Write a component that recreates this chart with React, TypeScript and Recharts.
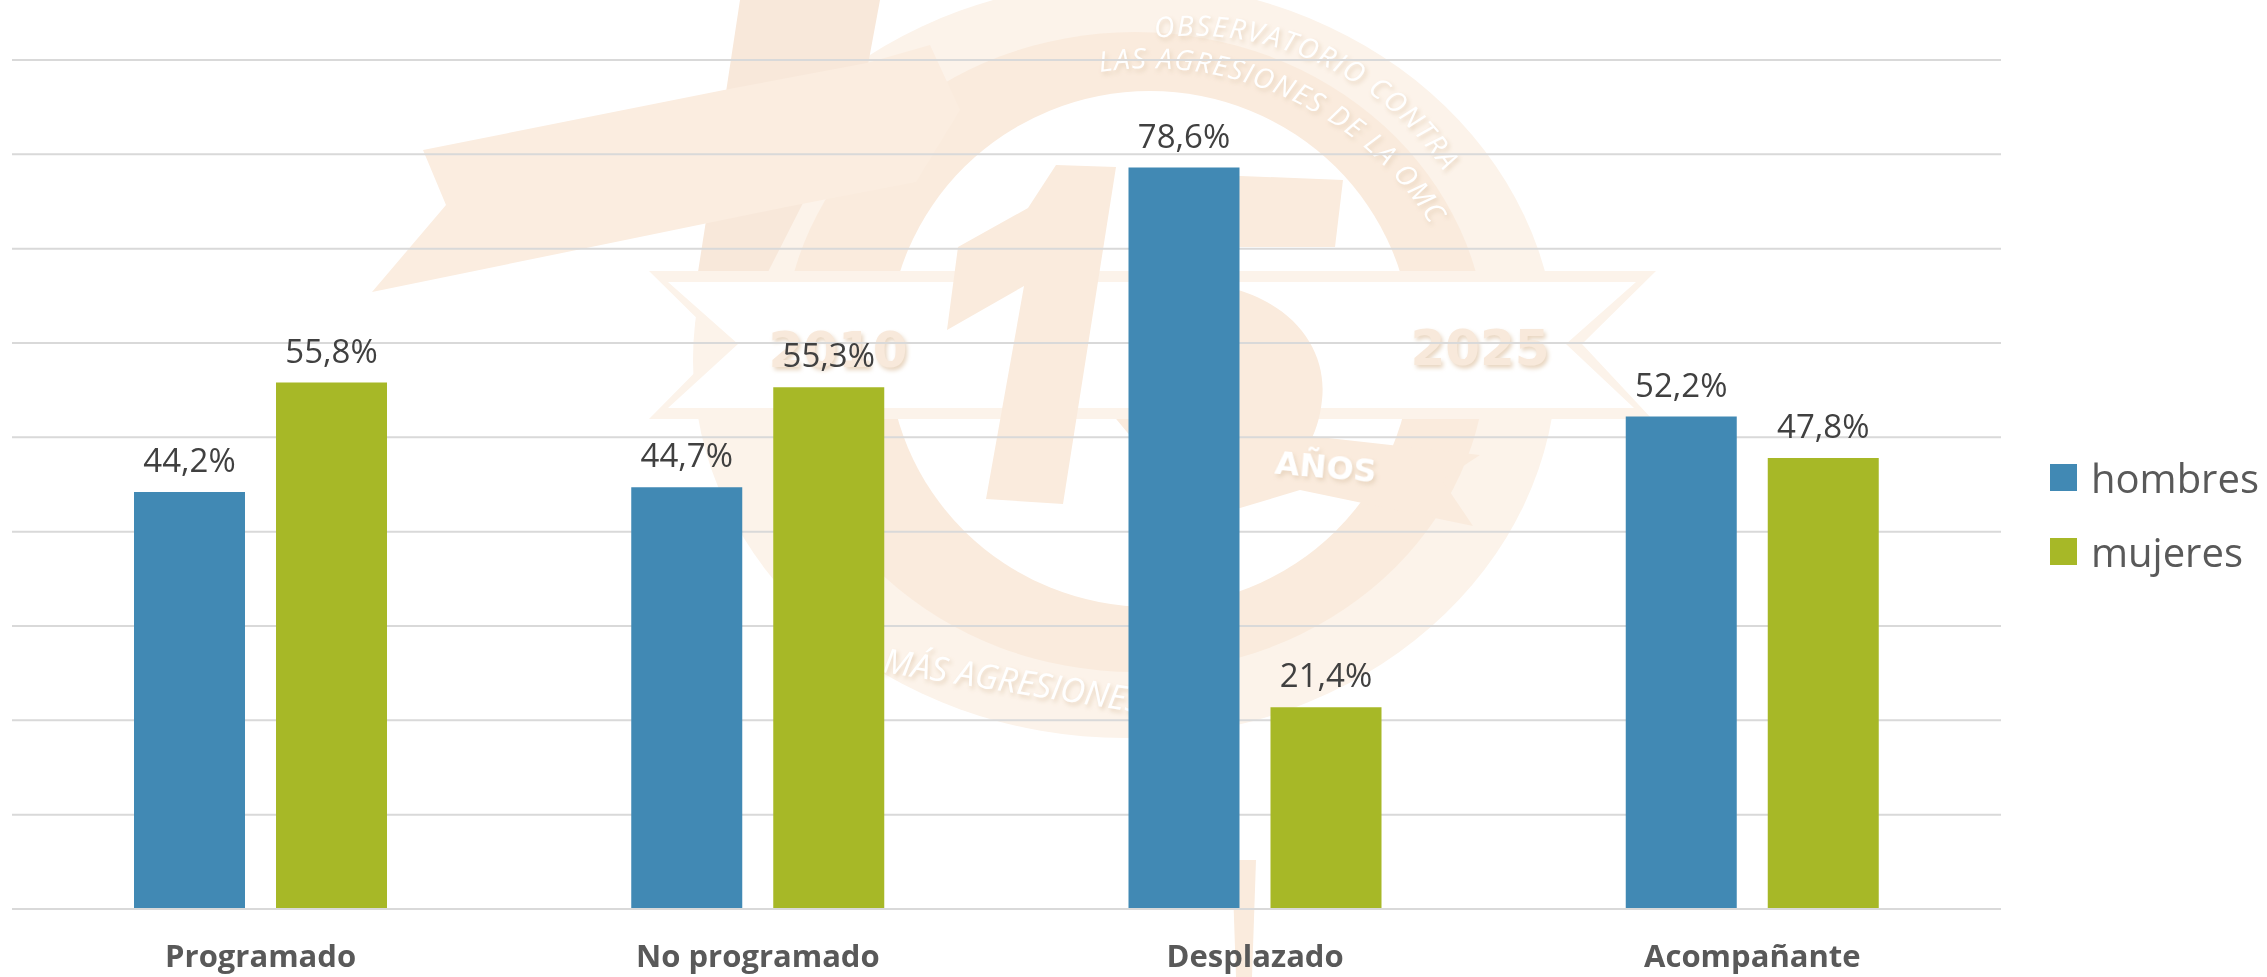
import { BarChart, Bar, XAxis, YAxis, CartesianGrid, Legend, LabelList } from 'recharts';

const categories = ['Programado', 'No programado', 'Desplazado', 'Acompañante'];
const hombres = [44.2, 44.7, 78.6, 52.2];
const mujeres = [55.8, 55.3, 21.4, 47.8];
const yTicks = [0, 10, 20, 30, 40, 50, 60, 70, 80, 90];

const data = categories.map((name, i) => ({ name, hombres: hombres[i], mujeres: mujeres[i] }));

const BLUE = '#4189B4';
const GREEN = '#A7B827';
const FONT = '"Open Sans", sans-serif';

const PEACH = '#FAEBDD';
const PEACH_LIGHT = '#FCF3EA';

const formatPct = (v: any) => `${String(v).replace('.', ',')}%`;

// faded logo that sits behind the chart
const Watermark = () => (
  <svg width={2267} height={977} style={{ position: 'absolute', left: 0, top: 0 }}>
    <defs>
      <filter id="soft" x="-10%" y="-10%" width="120%" height="120%">
        <feDropShadow dx="2" dy="3" stdDeviation="2" floodColor="#E8D5C0" />
      </filter>
      <path id="arcOuter" d="M 1155 38 A 300 300 0 0 1 1455 190" />
      <path id="arcInner" d="M 1100 72 A 330 330 0 0 1 1442 245" />
    </defs>
    <ellipse cx={1125} cy={360} rx={432} ry={378} fill={PEACH_LIGHT} />
    <ellipse cx={1135} cy={352} rx={352} ry={320} fill={PEACH} />
    <ellipse cx={1150} cy={349} rx={262} ry={258} fill="#fff" />
    <polygon points="740,0 880,0 867,70 803,203 768,272 698,272 726,92" fill="#F8E8DA" />
    <polygon points="423,150 724,90 867,63 930,45 960,110 916,182 786,207 372,292 446,205" fill="#FBEDE0" />
    <polygon points="1112,414 1480,455 1442,480 1473,526 1300,490 1200,520" fill={PEACH} />
    <polygon points="649,271 1656,271 1582,344 1652,419 649,419 723,344" fill={PEACH_LIGHT} />
    <polygon points="668,282 1636,282 1566,344 1634,408 668,408 738,344" fill="#fff" />
    <polygon points="1056,165 1116,167 1063,504 986,499 1024,286 947,330 958,247 1028,208" fill={PEACH} />
    <polygon points="1140,172 1343,180 1335,247 1140,247" fill={PEACH} />
    <path d="M 1130 285 C 1260 265 1330 330 1322 400 C 1315 470 1260 510 1130 505 Z" fill={PEACH} />
    <polygon points="1232,860 1256,860 1252,977 1236,977" fill={PEACH} />
    <g fontFamily={'"DejaVu Sans", sans-serif'} fontWeight="bold" filter="url(#soft)">
      <text x={838} y={367} fontSize={50} textAnchor="middle" fill="#F8E9DB">2010</text>
      <text x={1480} y={365} fontSize={50} textAnchor="middle" fill="#F8E9DB">2025</text>
      <text x={1326} y={478} fontSize={32} textAnchor="middle" fill="#fff" transform="rotate(5 1326 465)">AÑOS</text>
    </g>
    <g fontFamily={'"Open Sans", sans-serif'} fontStyle="italic" fill="#fff" filter="url(#soft)">
      <text x={882} y={672} fontSize={34} transform="rotate(9 882 672)">MÁS AGRESIONES</text>
      <text fontSize={28}>
        <textPath href="#arcOuter" textLength={335}>OBSERVATORIO CONTRA</textPath>
      </text>
      <text fontSize={28}>
        <textPath href="#arcInner" textLength={385}>LAS AGRESIONES DE LA OMC</textPath>
      </text>
    </g>
  </svg>
);

const renderLegend = ({ payload }: any) => (
  <div style={{ fontFamily: FONT, fontSize: 40, color: '#595959' }}>
    {(payload ?? []).map((item: any) => (
      <div key={item.value} style={{ display: 'flex', alignItems: 'center', height: 74 }}>
        <span style={{ width: 27, height: 27, background: item.color, marginRight: 14, display: 'inline-block' }} />
        {item.value}
      </div>
    ))}
  </div>
);

export default function App() {
  return (
    <div style={{ position: 'absolute', left: 0, top: 0, width: 2267, height: 977, background: '#fff', overflow: 'hidden' }}>
      <Watermark />
      <div style={{ position: 'absolute', left: 0, top: 0 }}>
        <BarChart
          width={2267}
          height={977}
          data={data}
          margin={{ top: 60, right: 49, bottom: 0, left: 12 }}
          barSize={111}
          barGap={31}
        >
          <CartesianGrid horizontal vertical={false} stroke="#D9D9D9" strokeWidth={2} />
          <XAxis
            dataKey="name"
            height={68}
            axisLine={{ stroke: '#D9D9D9', strokeWidth: 2 }}
            tickLine={false}
            tickMargin={30}
            interval={0}
            tick={{ fontFamily: FONT, fontSize: 31, fontWeight: 700, fill: '#595959' }}
          />
          <YAxis hide domain={[0, 90]} ticks={yTicks} />
          <Legend
            layout="vertical"
            align="right"
            verticalAlign="top"
            content={renderLegend}
            wrapperStyle={{ left: 2050, top: 440, width: 217 }}
          />
          <Bar dataKey="hombres" fill={BLUE} isAnimationActive={false}>
            <LabelList dataKey="hombres" position="top" offset={20} formatter={formatPct} style={{ fontFamily: FONT, fontSize: 33, fill: '#404040' }} />
          </Bar>
          <Bar dataKey="mujeres" fill={GREEN} isAnimationActive={false}>
            <LabelList dataKey="mujeres" position="top" offset={20} formatter={formatPct} style={{ fontFamily: FONT, fontSize: 33, fill: '#404040' }} />
          </Bar>
        </BarChart>
      </div>
    </div>
  );
}
